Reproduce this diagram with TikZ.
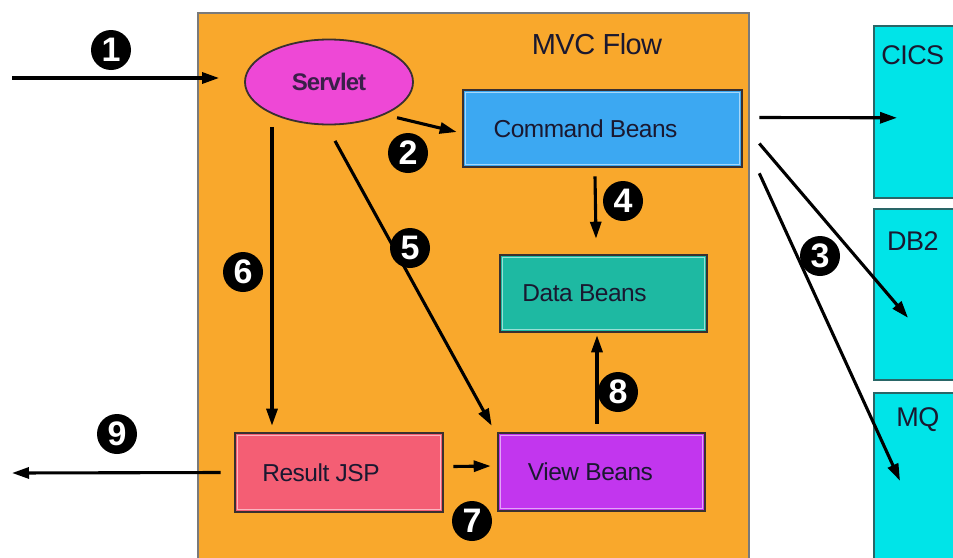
\documentclass[tikz,border=0pt]{standalone}
\usepackage{fontspec}
\setmainfont{Liberation Sans}
\usetikzlibrary{arrows.meta,shapes.geometric}
\definecolor{frameor}{HTML}{F9A82C}
\definecolor{framegr}{HTML}{7A7A7A}
\definecolor{servc}{HTML}{EE48D6}
\definecolor{cmdc}{HTML}{3CA8F2}
\definecolor{datac}{HTML}{1EB9A2}
\definecolor{viewc}{HTML}{C236EE}
\definecolor{resc}{HTML}{F45E74}
\definecolor{cyanc}{HTML}{00E4E8}
\definecolor{boxline}{HTML}{3A3030}
\definecolor{txtc}{HTML}{1A1830}
\begin{document}
\begin{tikzpicture}[x=1pt,y=-1pt,
  arr/.style={line width=3.1pt, -{Triangle[length=17pt,width=11pt]}},
  bean/.style={draw=boxline, line width=2.6pt, rectangle, inner sep=0pt,
    font=\fontsize{24.5}{24}\selectfont, text=txtc},
  inline/.style={line width=1.2pt, draw=white, draw opacity=0.55},
  ext/.style={draw=boxline!70!cyanc, line width=1.6pt, fill=cyanc, minimum width=90pt, inner sep=0pt},
  extlabel/.style={font=\fontsize{27}{27}\selectfont, text=txtc, anchor=north, inner sep=0pt},
  num/.style={circle, fill=black, text=white, minimum size=40pt, inner sep=0pt,
    font=\bfseries\fontsize{34}{34}\selectfont}
]
\useasboundingbox (0,0) rectangle (953,557);
% frame
\node[fill=frameor, draw=framegr, line width=2.2pt, minimum width=551pt, minimum height=560pt, inner sep=0pt, anchor=north west] (frame) at (197,12) {};
\node[font=\fontsize{29}{29}\selectfont, text=txtc] (title) at (597,44) {\addfontfeatures{LetterSpace=-2}MVC Flow};
% external boxes
\node[ext, minimum height=172pt, anchor=north west,
  label={[extlabel, yshift=-20pt, xshift=-6pt]north:{\addfontfeatures{LetterSpace=-2}CICS}}] (cics) at (873,25) {};
\node[ext, minimum height=171pt, anchor=north west,
  label={[extlabel, yshift=-23pt, xshift=-6pt]north:{\addfontfeatures{LetterSpace=-2}DB2}}] (db2) at (873,208) {};
\node[ext, minimum height=173pt, anchor=north west,
  label={[extlabel, yshift=-15pt, xshift=-1pt]north:{\addfontfeatures{LetterSpace=-2}MQ}}] (mq) at (873,392) {};
% servlet
\node[ellipse, draw=boxline, line width=1.8pt, fill=servc, minimum width=168pt, minimum height=85pt,
  inner sep=0pt, text=txtc!85!servc, font=\bfseries\fontsize{24}{24}\selectfont] (servlet) at (329,82) {\addfontfeatures{LetterSpace=-4}Servlet};
% beans
\node[bean, fill=cmdc, minimum width=279pt, minimum height=77pt] (cmd) at (602.5,128.5) {\hspace*{-34pt}\addfontfeatures{LetterSpace=-2}Command Beans};
\node[bean, fill=datac, minimum width=207pt, minimum height=77pt] (data) at (603.5,293.5) {\hspace*{-38pt}\addfontfeatures{LetterSpace=-2}Data Beans};
\node[bean, fill=viewc, minimum width=207pt, minimum height=78pt] (view) at (601.5,472) {\hspace*{-22pt}\addfontfeatures{LetterSpace=-2}View Beans};
\node[bean, fill=resc, minimum width=208pt, minimum height=79pt] (res) at (339,472.5) {\hspace*{-36pt}\addfontfeatures{LetterSpace=-2}Result JSP};
\foreach \n in {cmd,data,view,res}
  \draw[inline] ([shift={(3.5pt,-3.5pt)}]\n.north west) rectangle ([shift={(-3.5pt,3.5pt)}]\n.south east);
% free ends
\coordinate (in1) at (12,78);
\coordinate (out9) at (12,473);
% connectors
\draw[arr] (in1) -- ([xshift=-25pt,yshift=4pt]servlet.west);
\draw[arr] ([xshift=-13pt]res.west) -- (out9);
\draw[arr] ([xshift=8pt,yshift=-5pt]servlet.south east) -- ([xshift=-5pt,yshift=-3.5pt]cmd.west);
\draw[arr] ([xshift=-57pt,yshift=-1.5pt]servlet.south) -- ([xshift=-67pt,yshift=6pt]res.north);
\draw[arr] ([xshift=6pt,yshift=-15.5pt]servlet.south) -- ([xshift=-5pt,yshift=6pt]view.north west);
\draw[arr] ([xshift=-7.5pt,yshift=-8pt]cmd.south) -- ([xshift=-7.5pt,yshift=15pt]data.north);
\draw[arr] ([xshift=-4.5pt,yshift=8pt]view.north) -- ([xshift=-6.5pt,yshift=-2pt]data.south);
\draw[arr] ([xshift=9pt,yshift=6pt]res.east) -- ([xshift=-6pt,yshift=6pt]view.west);
\draw[arr] ([xshift=16pt,yshift=11pt]cmd.east) -- ([xshift=24pt,yshift=-6pt]cics.west);
\draw[arr] ([xshift=16pt,yshift=-15pt]cmd.east) -- ([xshift=35pt,yshift=-23.5pt]db2.west);
\draw[arr] ([xshift=16pt,yshift=-5pt]cmd.south east) -- ([xshift=27pt,yshift=-1.5pt]mq.west);
% numbers
\node[num] (n1) at (111,50) {1};
\node[num] (n2) at (408,153) {2};
\node[num] (n3) at (820,256) {3};
\node[num] (n4) at (623,201) {4};
\node[num] (n5) at (410,248) {5};
\node[num] (n6) at (243,272) {6};
\node[num] (n7) at (472,521) {7};
\node[num] (n8) at (618,392) {8};
\node[num] (n9) at (117,434) {9};
\end{tikzpicture}
\end{document}
